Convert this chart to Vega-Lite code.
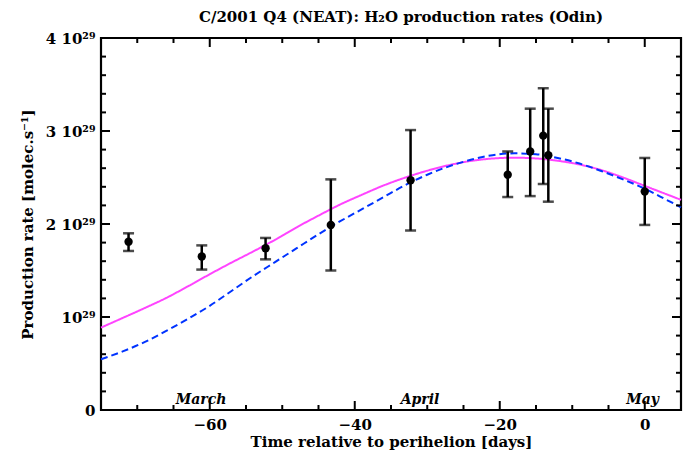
{
  "$schema": "https://vega.github.io/schema/vega-lite/v6.json",
  "autosize": {"type": "none"},
  "width": 580,
  "height": 372,
  "padding": {"left": 101, "top": 38, "right": 13, "bottom": 47},
  "background": "white",
  "config": {
    "font": "DejaVu Serif",
    "view": {"stroke": "black", "strokeWidth": 2.2},
    "axis": {"domain": false, "grid": false, "ticks": false, "tickSize": 0, "labelColor": "black", "titleColor": "black", "labelFont": "DejaVu Serif", "titleFont": "DejaVu Serif", "labelFontWeight": "bold", "titleFontWeight": "bold", "labelFontSize": 15, "titleFontSize": 15}
  },
  "title": {
    "text": "C/2001 Q4 (NEAT): H₂O production rates (Odin)",
    "font": "DejaVu Serif",
    "fontWeight": "bold",
    "fontSize": 15,
    "color": "black",
    "anchor": "middle",
    "offset": 6,
    "dx": 10
  },
  "datasets": {
    "obs": [
      {"day": -71.2, "q": 1.81, "lo": 1.71, "hi": 1.90},
      {"day": -61.1, "q": 1.65, "lo": 1.51, "hi": 1.77},
      {"day": -52.3, "q": 1.74, "lo": 1.62, "hi": 1.85},
      {"day": -43.3, "q": 1.99, "lo": 1.50, "hi": 2.48},
      {"day": -32.3, "q": 2.47, "lo": 1.93, "hi": 3.01},
      {"day": -18.9, "q": 2.53, "lo": 2.29, "hi": 2.78},
      {"day": -15.8, "q": 2.78, "lo": 2.30, "hi": 3.24},
      {"day": -14.0, "q": 2.95, "lo": 2.43, "hi": 3.46},
      {"day": -13.3, "q": 2.74, "lo": 2.24, "hi": 3.24},
      {"day": 0.0, "q": 2.35, "lo": 1.99, "hi": 2.71}
    ],
    "curves": [
      {"series": "model A", "day": -75, "q": 0.886},
      {"series": "model A", "day": -72, "q": 0.99},
      {"series": "model A", "day": -69, "q": 1.095},
      {"series": "model A", "day": -66, "q": 1.205},
      {"series": "model A", "day": -63, "q": 1.33},
      {"series": "model A", "day": -60, "q": 1.46},
      {"series": "model A", "day": -57, "q": 1.585},
      {"series": "model A", "day": -54, "q": 1.705},
      {"series": "model A", "day": -51, "q": 1.83},
      {"series": "model A", "day": -48, "q": 1.965},
      {"series": "model A", "day": -45, "q": 2.09},
      {"series": "model A", "day": -42, "q": 2.21},
      {"series": "model A", "day": -39, "q": 2.315},
      {"series": "model A", "day": -36, "q": 2.415},
      {"series": "model A", "day": -33, "q": 2.50},
      {"series": "model A", "day": -30, "q": 2.573},
      {"series": "model A", "day": -27, "q": 2.633},
      {"series": "model A", "day": -24, "q": 2.678},
      {"series": "model A", "day": -21, "q": 2.704},
      {"series": "model A", "day": -18, "q": 2.713},
      {"series": "model A", "day": -15, "q": 2.705},
      {"series": "model A", "day": -12, "q": 2.68},
      {"series": "model A", "day": -9, "q": 2.64},
      {"series": "model A", "day": -6, "q": 2.58},
      {"series": "model A", "day": -3, "q": 2.50},
      {"series": "model A", "day": 0, "q": 2.41},
      {"series": "model A", "day": 3, "q": 2.32},
      {"series": "model A", "day": 5, "q": 2.26},
      {"series": "model B", "day": -75, "q": 0.545},
      {"series": "model B", "day": -72, "q": 0.63},
      {"series": "model B", "day": -69, "q": 0.73},
      {"series": "model B", "day": -66, "q": 0.85},
      {"series": "model B", "day": -63, "q": 0.98},
      {"series": "model B", "day": -60, "q": 1.12},
      {"series": "model B", "day": -57, "q": 1.28},
      {"series": "model B", "day": -54, "q": 1.44},
      {"series": "model B", "day": -51, "q": 1.59},
      {"series": "model B", "day": -48, "q": 1.74},
      {"series": "model B", "day": -45, "q": 1.89},
      {"series": "model B", "day": -42, "q": 2.03},
      {"series": "model B", "day": -39, "q": 2.16},
      {"series": "model B", "day": -36, "q": 2.29},
      {"series": "model B", "day": -33, "q": 2.42},
      {"series": "model B", "day": -30, "q": 2.53},
      {"series": "model B", "day": -27, "q": 2.62},
      {"series": "model B", "day": -24, "q": 2.69},
      {"series": "model B", "day": -21, "q": 2.74},
      {"series": "model B", "day": -18, "q": 2.76},
      {"series": "model B", "day": -15, "q": 2.75},
      {"series": "model B", "day": -12, "q": 2.71},
      {"series": "model B", "day": -9, "q": 2.65},
      {"series": "model B", "day": -6, "q": 2.57},
      {"series": "model B", "day": -3, "q": 2.48},
      {"series": "model B", "day": 0, "q": 2.38},
      {"series": "model B", "day": 3, "q": 2.26},
      {"series": "model B", "day": 5, "q": 2.18}
    ],
    "months": [
      {"label": "March", "day": -61.2, "q": 0.11},
      {"label": "April", "day": -31.0, "q": 0.11},
      {"label": "May", "day": -0.3, "q": 0.11}
    ],
    "xmajor": [{"t": -60}, {"t": -40}, {"t": -20}, {"t": 0}],
    "xminor": [{"t": -70}, {"t": -65}, {"t": -55}, {"t": -50}, {"t": -45}, {"t": -35}, {"t": -30}, {"t": -25}, {"t": -15}, {"t": -10}, {"t": -5}],
    "ymajor": [{"t": 1}, {"t": 2}, {"t": 3}],
    "yminor": [{"t": 0.2}, {"t": 0.4}, {"t": 0.6}, {"t": 0.8}, {"t": 1.2}, {"t": 1.4}, {"t": 1.6}, {"t": 1.8}, {"t": 2.2}, {"t": 2.4}, {"t": 2.6}, {"t": 2.8}, {"t": 3.2}, {"t": 3.4}, {"t": 3.6}, {"t": 3.8}]
  },
  "layer": [
    {
      "data": {"name": "curves"},
      "mark": {"type": "line", "strokeWidth": 2, "interpolate": "monotone"},
      "encoding": {
        "x": {"field": "day", "type": "quantitative", "scale": {"domain": [-75, 5], "nice": false, "zero": false},
          "axis": {"orient": "bottom", "values": [-60, -40, -20, 0], "labelPadding": 7, "title": "Time relative to perihelion [days]", "titlePadding": 2}},
        "y": {"field": "q", "type": "quantitative", "scale": {"domain": [0, 4], "nice": false},
          "axis": {"orient": "left", "values": [0, 1, 2, 3, 4], "labelPadding": 6,
            "labelExpr": "datum.value == 0 ? '0' : (datum.value == 1 ? '10²⁹' : datum.value + ' 10²⁹')",
            "title": "Production rate [molec.s⁻¹]", "titlePadding": 10}},
        "color": {"field": "series", "type": "nominal", "scale": {"domain": ["model A", "model B"], "range": ["#ff44ff", "#0033ff"]}, "legend": null},
        "strokeDash": {"field": "series", "type": "nominal", "scale": {"domain": ["model A", "model B"], "range": [[1, 0], [7, 4]]}, "legend": null}
      }
    },
    {
      "data": {"name": "xmajor"},
      "mark": {"type": "rule", "strokeWidth": 2, "color": "black"},
      "encoding": {
        "x": {"field": "t", "type": "quantitative"},
        "y": {"datum": 0, "type": "quantitative"},
        "y2": {"datum": 0.097}
      }
    },
    {
      "data": {"name": "xmajor"},
      "mark": {"type": "rule", "strokeWidth": 2, "color": "black"},
      "encoding": {
        "x": {"field": "t", "type": "quantitative"},
        "y": {"datum": 4, "type": "quantitative"},
        "y2": {"datum": 3.903}
      }
    },
    {
      "data": {"name": "xminor"},
      "mark": {"type": "rule", "strokeWidth": 2, "color": "black"},
      "encoding": {
        "x": {"field": "t", "type": "quantitative"},
        "y": {"datum": 0, "type": "quantitative"},
        "y2": {"datum": 0.054}
      }
    },
    {
      "data": {"name": "xminor"},
      "mark": {"type": "rule", "strokeWidth": 2, "color": "black"},
      "encoding": {
        "x": {"field": "t", "type": "quantitative"},
        "y": {"datum": 4, "type": "quantitative"},
        "y2": {"datum": 3.946}
      }
    },
    {
      "data": {"name": "ymajor"},
      "mark": {"type": "rule", "strokeWidth": 2, "color": "black"},
      "encoding": {
        "y": {"field": "t", "type": "quantitative"},
        "x": {"datum": -75, "type": "quantitative"},
        "x2": {"datum": -73.76}
      }
    },
    {
      "data": {"name": "ymajor"},
      "mark": {"type": "rule", "strokeWidth": 2, "color": "black"},
      "encoding": {
        "y": {"field": "t", "type": "quantitative"},
        "x": {"datum": 5, "type": "quantitative"},
        "x2": {"datum": 3.76}
      }
    },
    {
      "data": {"name": "yminor"},
      "mark": {"type": "rule", "strokeWidth": 2, "color": "black"},
      "encoding": {
        "y": {"field": "t", "type": "quantitative"},
        "x": {"datum": -75, "type": "quantitative"},
        "x2": {"datum": -74.31}
      }
    },
    {
      "data": {"name": "yminor"},
      "mark": {"type": "rule", "strokeWidth": 2, "color": "black"},
      "encoding": {
        "y": {"field": "t", "type": "quantitative"},
        "x": {"datum": 5, "type": "quantitative"},
        "x2": {"datum": 4.31}
      }
    },
    {
      "data": {"name": "obs"},
      "mark": {"type": "rule", "strokeWidth": 2.5, "color": "black"},
      "encoding": {
        "x": {"field": "day", "type": "quantitative"},
        "y": {"field": "lo", "type": "quantitative"},
        "y2": {"field": "hi"}
      }
    },
    {
      "data": {"name": "obs"},
      "mark": {"type": "tick", "orient": "horizontal", "size": 11, "thickness": 2.5, "color": "black"},
      "encoding": {
        "x": {"field": "day", "type": "quantitative"},
        "y": {"field": "lo", "type": "quantitative"}
      }
    },
    {
      "data": {"name": "obs"},
      "mark": {"type": "tick", "orient": "horizontal", "size": 11, "thickness": 2.5, "color": "black"},
      "encoding": {
        "x": {"field": "day", "type": "quantitative"},
        "y": {"field": "hi", "type": "quantitative"}
      }
    },
    {
      "data": {"name": "obs"},
      "mark": {"type": "circle", "size": 70, "opacity": 1, "color": "black"},
      "encoding": {
        "x": {"field": "day", "type": "quantitative"},
        "y": {"field": "q", "type": "quantitative"}
      }
    },
    {
      "data": {"name": "months"},
      "mark": {"type": "text", "font": "DejaVu Serif", "fontWeight": "bold", "fontStyle": "italic", "fontSize": 14, "color": "black", "baseline": "middle", "align": "center"},
      "encoding": {
        "x": {"field": "day", "type": "quantitative"},
        "y": {"field": "q", "type": "quantitative"},
        "text": {"field": "label"}
      }
    }
  ]
}
